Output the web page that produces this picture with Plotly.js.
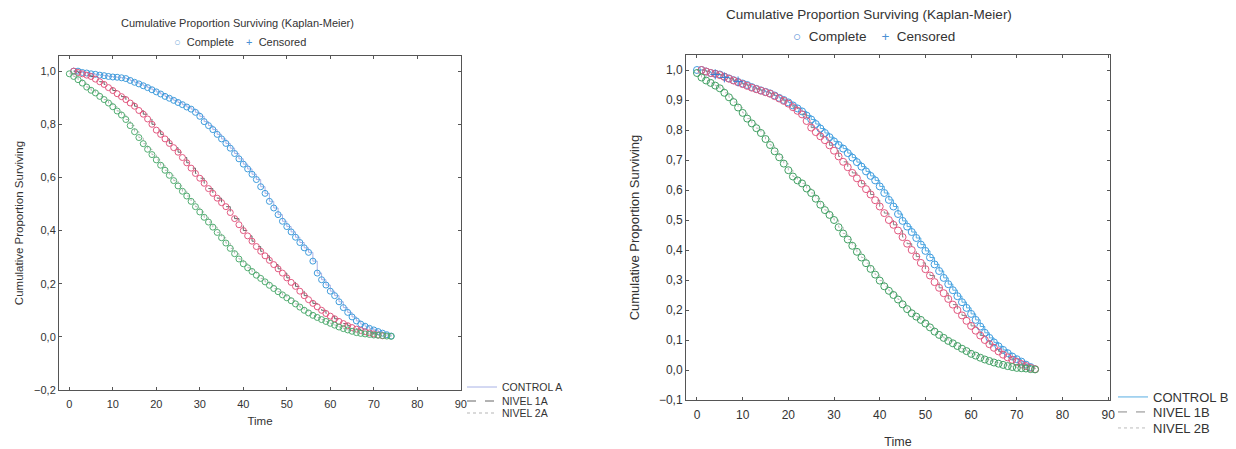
<!DOCTYPE html>
<html><head><meta charset="utf-8">
<script src="https://cdn.plot.ly/plotly-3.0.1.min.js"></script>
<style>html,body{margin:0;padding:0;background:#fff;} #chart{width:1236px;height:449px;}</style>
</head><body><div id="chart"></div>
<script>
// ---- data ----
const time = [0,1,2,3,4,5,6,7,8,9,10,11,12,13,14,15,16,17,18,19,20,21,22,23,24,25,26,27,28,29,30,31,32,33,34,35,36,37,38,39,40,41,42,43,44,45,46,47,48,49,50,51,52,53,54,55,56,57,58,59,60,61,62,63,64,65,66,67,68,69,70,71,72,73,74];

const controlA = [null,1.0,1.0,0.995,0.993,0.99,0.988,0.985,0.983,0.98,0.978,0.977,0.975,0.972,0.965,0.958,0.952,0.945,0.938,0.93,0.922,0.914,0.905,0.898,0.89,0.882,0.874,0.865,0.857,0.845,0.83,0.81,0.795,0.78,0.762,0.745,0.728,0.71,0.69,0.67,0.65,0.632,0.612,0.592,0.565,0.54,0.51,0.485,0.46,0.435,0.415,0.395,0.375,0.355,0.335,0.318,0.285,0.24,0.215,0.195,0.172,0.155,0.132,0.11,0.092,0.075,0.06,0.048,0.04,0.032,0.026,0.02,0.014,0.008,0.003];
const nivel1A = [null,1.0,0.995,0.99,0.985,0.98,0.97,0.96,0.95,0.938,0.927,0.915,0.904,0.893,0.88,0.868,0.852,0.838,0.82,0.8,0.778,0.762,0.745,0.728,0.712,0.695,0.675,0.655,0.635,0.615,0.597,0.578,0.558,0.54,0.522,0.505,0.49,0.468,0.445,0.422,0.4,0.38,0.36,0.34,0.322,0.305,0.288,0.272,0.256,0.24,0.222,0.205,0.19,0.172,0.155,0.14,0.126,0.113,0.1,0.088,0.078,0.068,0.058,0.05,0.042,0.035,0.029,0.024,0.019,0.015,0.011,0.007,0.004,null,null];
const nivel2A = [0.99,0.98,0.968,0.955,0.94,0.928,0.918,0.905,0.893,0.88,0.866,0.85,0.835,0.818,0.795,0.772,0.75,0.727,0.706,0.686,0.666,0.646,0.627,0.608,0.588,0.568,0.548,0.53,0.51,0.49,0.47,0.45,0.432,0.413,0.393,0.373,0.353,0.333,0.313,0.293,0.275,0.26,0.246,0.232,0.22,0.207,0.194,0.182,0.17,0.158,0.147,0.136,0.124,0.112,0.1,0.09,0.081,0.073,0.065,0.058,0.051,0.044,0.037,0.031,0.026,0.021,0.016,0.013,0.011,0.009,0.007,0.006,0.005,0.003,0.002];

const controlB = [1.0,1.0,0.995,0.99,0.988,0.985,0.978,0.972,0.966,0.96,0.955,0.95,0.943,0.937,0.932,0.927,0.922,0.915,0.907,0.9,0.892,0.882,0.872,0.862,0.848,0.835,0.82,0.805,0.79,0.776,0.762,0.75,0.738,0.723,0.708,0.693,0.678,0.662,0.647,0.632,0.612,0.59,0.567,0.545,0.52,0.497,0.478,0.46,0.44,0.418,0.397,0.375,0.352,0.33,0.307,0.286,0.266,0.246,0.226,0.207,0.187,0.167,0.145,0.124,0.107,0.092,0.079,0.067,0.056,0.045,0.036,0.028,0.018,0.01,null];
const nivel1B = [null,1.0,0.995,0.99,0.987,0.983,0.977,0.971,0.965,0.959,0.953,0.947,0.941,0.936,0.931,0.926,0.921,0.913,0.905,0.897,0.888,0.876,0.864,0.852,0.83,0.808,0.793,0.779,0.766,0.749,0.731,0.712,0.694,0.676,0.657,0.639,0.621,0.603,0.585,0.566,0.545,0.523,0.5,0.484,0.465,0.443,0.421,0.4,0.378,0.357,0.336,0.315,0.293,0.274,0.256,0.237,0.218,0.2,0.182,0.164,0.147,0.131,0.115,0.1,0.086,0.074,0.062,0.051,0.042,0.034,0.027,0.02,0.013,0.007,0.003];
const nivel2B = [0.99,0.975,0.965,0.957,0.948,0.939,0.924,0.909,0.893,0.875,0.857,0.838,0.822,0.806,0.79,0.77,0.75,0.729,0.709,0.688,0.666,0.645,0.632,0.622,0.605,0.59,0.571,0.551,0.533,0.517,0.5,0.476,0.455,0.435,0.414,0.394,0.375,0.356,0.337,0.318,0.298,0.279,0.264,0.25,0.235,0.219,0.203,0.189,0.178,0.167,0.155,0.142,0.128,0.117,0.107,0.097,0.089,0.08,0.071,0.063,0.054,0.048,0.041,0.035,0.03,0.025,0.021,0.017,0.013,0.01,0.007,0.006,0.005,0.003,0.002];

const censoredTimeB = [4, 6, 9];
const censoredB = [0.985, 0.975, 0.962];

const seriesNamesA = ['CONTROL A', 'NIVEL 1A', 'NIVEL 2A'];
const seriesNamesB = ['CONTROL B', 'NIVEL 1B', 'NIVEL 2B'];
const xTicks = [0,10,20,30,40,50,60,70,80,90];

// ---- styles ----
const FONT = 'Liberation Sans, Arial, sans-serif';
const TXT = '#333';
const W = 1236, H = 449;
const px = v => v / W, py = v => 1 - v / H;

const styleA = [
  {color:'#3f9cdc', lineColor:'#a8b2e6', dash:'solid'},
  {color:'#e2587f', lineColor:'#666666', dash:'dash'},
  {color:'#52ad72', lineColor:'#b5b5b5', dash:'dot'}
];
const styleB = [
  {color:'#3f9ce0', lineColor:'#58aee2', dash:'solid'},
  {color:'#e2587f', lineColor:'#888888', dash:'dash'},
  {color:'#42a064', lineColor:'#bcbcbc', dash:'dot'}
];

const traces = [];
function addSeries(vals, name, st, xa, ya, legendId, msize) {
  traces.push({x: time, y: vals, xaxis: xa, yaxis: ya, mode: 'lines', name: name,
    legend: legendId, line: {shape: 'hv', color: st.lineColor, dash: st.dash, width: 1},
    hoverinfo: 'skip'});
  traces.push({x: time, y: vals, xaxis: xa, yaxis: ya, mode: 'markers', name: name,
    showlegend: false, marker: {symbol: 'circle-open', size: msize, color: st.color,
    line: {width: 1, color: st.color}}});
}
const valsA = [controlA, nivel1A, nivel2A];
const valsB = [controlB, nivel1B, nivel2B];
for (let i = 0; i < 3; i++) addSeries(valsA[i], seriesNamesA[i], styleA[i], 'x', 'y', i === 0 ? 'legend' : 'legend' + (i + 1), 6);
for (let i = 0; i < 3; i++) addSeries(valsB[i], seriesNamesB[i], styleB[i], 'x2', 'y2', 'legend' + (i + 4), 7);
traces.push({x: censoredTimeB, y: censoredB, xaxis: 'x2', yaxis: 'y2', mode: 'markers', showlegend: false,
  name: 'Censored', marker: {symbol: 'cross-thin-open', size: 7, color: '#3f7fd0', line: {width: 1, color: '#3f7fd0'}}});

function xAxis(domain, range, fs, tfs, standoff) {
  return {domain: domain, range: range, tickvals: xTicks, ticks: 'inside', ticklen: 3, tickcolor: '#555',
    showline: true, linecolor: '#555', linewidth: 1, mirror: 'ticks', showgrid: false, zeroline: false,
    tickfont: {family: FONT, size: fs, color: TXT}, ticklabelstandoff: 4,
    title: {text: 'Time', font: {family: FONT, size: tfs, color: TXT}, standoff: standoff}};
}
function yAxis(domain, range, dtick, fs, tfs, standoff) {
  return {domain: domain, range: range, dtick: dtick, tick0: 0, tickformat: '.1f', ticks: 'inside', ticklen: 3,
    tickcolor: '#555', showline: true, linecolor: '#555', linewidth: 1, mirror: 'ticks', showgrid: false,
    zeroline: false, tickfont: {family: FONT, size: fs, color: TXT},
    title: {text: 'Cumulative Proportion Surviving', font: {family: FONT, size: tfs, color: TXT}, standoff: standoff}};
}
function leg(xp, yp, fs) {
  return {x: px(xp), y: py(yp), xanchor: 'left', yanchor: 'middle', bgcolor: 'rgba(0,0,0,0)',
    borderwidth: 0, itemwidth: 30, font: {family: FONT, size: fs, color: TXT}};
}

const layout = {
  width: W, height: H, margin: {l: 0, r: 0, t: 0, b: 0}, paper_bgcolor: '#fff', plot_bgcolor: '#fff',
  separators: ',.', font: {family: FONT, color: TXT},
  xaxis: Object.assign(xAxis([px(59), px(461)], [-2.37, 90.05], 11, 11.5, 7), {anchor: 'y'}),
  yaxis: Object.assign(yAxis([py(390), py(56)], [-0.2, 1.057], 0.2, 11, 11.5, 8), {anchor: 'x'}),
  xaxis2: Object.assign(xAxis([px(686), px(1110)], [-2.4, 90.4], 12, 12.5, 20), {anchor: 'y2'}),
  yaxis2: Object.assign(yAxis([py(400), py(55)], [-0.1, 1.05], 0.1, 12, 13, 16), {anchor: 'x2'}),
  legend: leg(462, 387, 10.5), legend2: leg(462, 401, 10.5), legend3: leg(462, 413, 10.5),
  legend4: leg(1113, 397, 13), legend5: leg(1113, 412, 13), legend6: leg(1113, 428, 13),
  annotations: [
    {text: 'Cumulative Proportion Surviving (Kaplan-Meier)', xref: 'paper', yref: 'paper', x: px(237), y: py(23),
     xanchor: 'center', yanchor: 'middle', showarrow: false, font: {family: FONT, size: 11, color: TXT}},
    {text: '<span style="color:#7fb0dc">○</span>  Complete    <span style="color:#4a90d4">+</span>  Censored', xref: 'paper', yref: 'paper',
     x: px(240), y: py(42), xanchor: 'center', yanchor: 'middle', showarrow: false, font: {family: FONT, size: 11, color: TXT}},
    {text: 'Cumulative Proportion Surviving (Kaplan-Meier)', xref: 'paper', yref: 'paper', x: px(869), y: py(15),
     xanchor: 'center', yanchor: 'middle', showarrow: false, font: {family: FONT, size: 13.5, color: TXT}},
    {text: '<span style="color:#5a8fd6">○</span>  Complete    <span style="color:#4a90d4">+</span>  Censored', xref: 'paper', yref: 'paper',
     x: px(874), y: py(37), xanchor: 'center', yanchor: 'middle', showarrow: false, font: {family: FONT, size: 13.5, color: TXT}}
  ]
};

Plotly.newPlot('chart', traces, layout, {staticPlot: true, displayModeBar: false});
</script></body></html>
